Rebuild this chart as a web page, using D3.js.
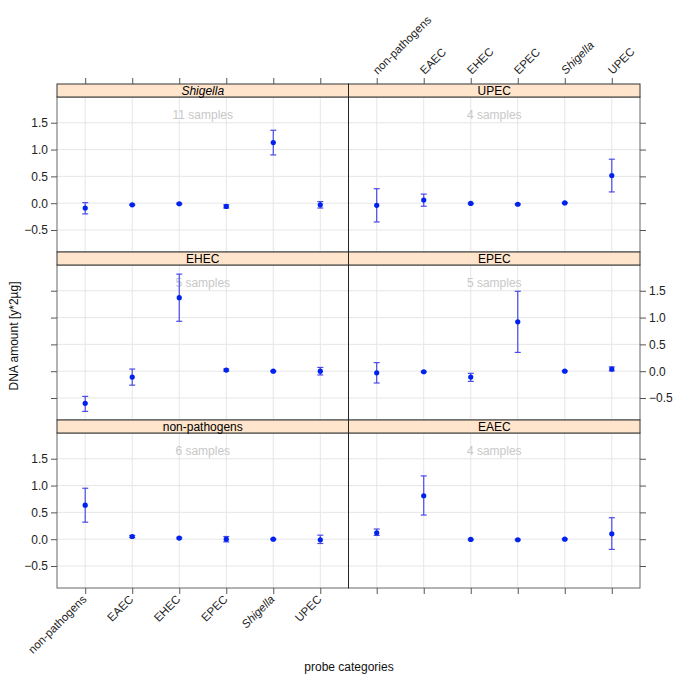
<!DOCTYPE html>
<html><head><meta charset="utf-8">
<script src="https://cdn.jsdelivr.net/npm/d3@7"></script>
<style>body{margin:0;background:#fff}svg{font-family:"Liberation Sans",Arial,sans-serif}</style>
</head><body><svg id="c" width="685" height="685"></svg>
<script>
const categories = ["non-pathogens","EAEC","EHEC","EPEC","Shigella","UPEC"];
// panels in reading order: top-left, top-right, middle-left, middle-right, bottom-left, bottom-right
const panels = ["Shigella","UPEC","EHEC","EPEC","non-pathogens","EAEC"];
const samples = [11, 4, 5, 5, 6, 4];
const means = [
  [-0.09, -0.03, -0.01, -0.06, 1.13, -0.03],
  [-0.04, 0.06, -0.005, -0.02, 0.005, 0.515],
  [-0.60, -0.11, 1.37, 0.02, 0.0, 0.0],
  [-0.03, -0.01, -0.11, 0.92, 0.0, 0.04],
  [0.634, 0.05, 0.02, 0.0, 0.0, -0.01],
  [0.12, 0.81, -0.005, -0.01, 0.0, 0.10]
];
const lowers = [
  [-0.20, -0.04, -0.02, -0.09, 0.90, -0.09],
  [-0.35, -0.056, -0.015, -0.03, -0.005, 0.21],
  [-0.75, -0.26, 0.93, 0.0, -0.01, -0.07],
  [-0.22, -0.02, -0.19, 0.35, -0.01, 0.005],
  [0.317, 0.03, 0.005, -0.05, -0.01, -0.08],
  [0.07, 0.45, -0.015, -0.02, -0.01, -0.19]
];
const uppers = [
  [0.01, -0.02, 0.0, -0.03, 1.36, 0.03],
  [0.27, 0.17, 0.005, -0.01, 0.015, 0.82],
  [-0.47, 0.04, 1.81, 0.04, 0.01, 0.07],
  [0.16, 0.0, -0.04, 1.49, 0.01, 0.08],
  [0.95, 0.07, 0.035, 0.05, 0.01, 0.075],
  [0.19, 1.18, 0.005, 0.0, 0.01, 0.40]
];
const yTicks = [-0.5, 0, 0.5, 1.0, 1.5];
const yDomain = [-0.91, 1.98];

const svg = d3.select("#c");
const colX = [57, 348.5, 640];
const rowTop = [84, 252, 420];
const stripH = 13, panelH = 155;
const italic = s => s === "Shigella" ? "italic" : "normal";
const fmt = d3.format(".1f");

panels.forEach((name, pi) => {
  const col = pi % 2, row = Math.floor(pi / 2);
  const x0 = colX[col], x1 = colX[col + 1];
  const sTop = rowTop[row], pTop = sTop + stripH, pBot = pTop + panelH;
  const x = d3.scalePoint().domain(categories).range([x0, x1]).padding(0.6);
  const y = d3.scaleLinear().domain(yDomain).range([pBot, pTop]);
  const g = svg.append("g");

  // grid
  g.selectAll(".vg").data(categories).join("line")
    .attr("x1", d => x(d)).attr("x2", d => x(d)).attr("y1", pTop).attr("y2", pBot)
    .attr("stroke", "#e6e6e6").attr("stroke-width", 1);
  g.selectAll(".hg").data(yTicks).join("line")
    .attr("x1", x0).attr("x2", x1).attr("y1", d => y(d)).attr("y2", d => y(d))
    .attr("stroke", "#e6e6e6").attr("stroke-width", 1);

  // samples text
  g.append("text").attr("x", (x0 + x1) / 2).attr("y", pTop + 22)
    .attr("text-anchor", "middle").attr("font-size", 12).attr("fill", "#c8c8c8")
    .text(samples[pi] + " samples");

  // error bars
  const idx = d3.range(categories.length);
  const ebc = "#4a4ae8";
  g.selectAll(".eb").data(idx).join("line")
    .attr("x1", i => x(categories[i])).attr("x2", i => x(categories[i]))
    .attr("y1", i => y(lowers[pi][i])).attr("y2", i => y(uppers[pi][i]))
    .attr("stroke", ebc).attr("stroke-width", 1.2);
  ["l", "u"].forEach(k => {
    const arr = k === "l" ? lowers : uppers;
    g.selectAll(".cap" + k).data(idx).join("line")
      .attr("x1", i => x(categories[i]) - 3).attr("x2", i => x(categories[i]) + 3)
      .attr("y1", i => y(arr[pi][i])).attr("y2", i => y(arr[pi][i]))
      .attr("stroke", ebc).attr("stroke-width", 1.2);
  });
  g.selectAll(".pt").data(idx).join("circle")
    .attr("cx", i => x(categories[i])).attr("cy", i => y(means[pi][i]))
    .attr("r", 2.6).attr("fill", "#0022ee");

  // panel border
  g.append("rect").attr("x", x0).attr("y", pTop).attr("width", x1 - x0).attr("height", panelH)
    .attr("fill", "none").attr("stroke", "#666").attr("stroke-width", 1);

  // strip
  g.append("rect").attr("x", x0).attr("y", sTop).attr("width", x1 - x0).attr("height", stripH)
    .attr("fill", "#ffe5cc").attr("stroke", "#333").attr("stroke-width", 1);
  g.append("text").attr("x", (x0 + x1) / 2).attr("y", sTop + stripH - 2.5)
    .attr("text-anchor", "middle").attr("font-size", 12).attr("fill", "#000")
    .attr("font-style", italic(name)).text(name);

  // y axes
  const showLeft = col === 0 && row !== 1;
  const showRight = col === 1 && row === 1;
  if (col === 0) {
    const ax = g.append("g").attr("transform", `translate(${x0},0)`)
      .call(d3.axisLeft(y).tickValues(yTicks).tickSize(6).tickSizeOuter(0).tickFormat(showLeft ? fmt : ""));
    ax.select(".domain").remove();
    ax.selectAll(".tick line").attr("stroke", "#555");
    ax.selectAll("text").attr("font-size", 12).attr("fill", "#222").attr("font-family", "Liberation Sans, Arial, sans-serif");
  } else {
    const ax = g.append("g").attr("transform", `translate(${x1},0)`)
      .call(d3.axisRight(y).tickValues(yTicks).tickSize(6).tickSizeOuter(0).tickFormat(showRight ? fmt : ""));
    ax.select(".domain").remove();
    ax.selectAll(".tick line").attr("stroke", "#555");
    ax.selectAll("text").attr("font-size", 12).attr("fill", "#222").attr("font-family", "Liberation Sans, Arial, sans-serif");
  }

  // x axes top
  if (row === 0) {
    const ax = g.append("g").attr("transform", `translate(0,${sTop})`)
      .call(d3.axisTop(x).tickSize(6).tickSizeOuter(0).tickFormat(""));
    ax.select(".domain").remove();
    ax.selectAll(".tick line").attr("stroke", "#555");
    if (col === 1) {
      g.selectAll(".tl").data(categories).join("text")
        .attr("transform", d => `translate(${x(d) + 1},${sTop - 9}) rotate(-45)`)
        .attr("text-anchor", "start").attr("font-size", 11.5).attr("fill", "#222")
        .attr("font-style", d => italic(d)).text(d => d);
    }
  }
  // x axes bottom
  if (row === 2) {
    const ax = g.append("g").attr("transform", `translate(0,${pBot})`)
      .call(d3.axisBottom(x).tickSize(6).tickSizeOuter(0).tickFormat(""));
    ax.select(".domain").remove();
    ax.selectAll(".tick line").attr("stroke", "#555");
    if (col === 0) {
      g.selectAll(".bl").data(categories).join("text")
        .attr("transform", d => `translate(${x(d) + 2},${pBot + 12}) rotate(-45)`)
        .attr("text-anchor", "end").attr("font-size", 11.5).attr("fill", "#222")
        .attr("font-style", d => italic(d)).text(d => d);
    }
  }
});

// central divider darker
svg.append("line").attr("x1", colX[1]).attr("x2", colX[1]).attr("y1", rowTop[0]).attr("y2", rowTop[2] + stripH + panelH)
  .attr("stroke", "#222").attr("stroke-width", 1);

// axis titles
svg.append("text").attr("transform", `translate(18,336) rotate(-90)`)
  .attr("text-anchor", "middle").attr("font-size", 12).attr("fill", "#111")
  .text("DNA amount [y*2µg]");
svg.append("text").attr("x", 349).attr("y", 671)
  .attr("text-anchor", "middle").attr("font-size", 12).attr("fill", "#111")
  .text("probe categories");
</script></body></html>
